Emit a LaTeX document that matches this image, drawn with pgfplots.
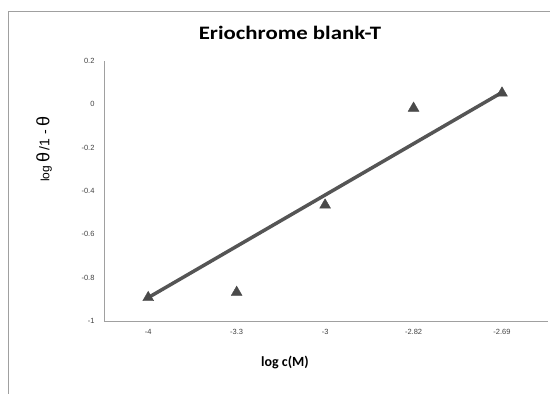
\documentclass[border=0pt]{standalone}
\usepackage{pgfplots}
\pgfplotsset{compat=1.18}
\usepackage{fontspec}
\setmainfont{Liberation Sans}
\newfontfamily\calibri{Carlito}
\definecolor{markc}{HTML}{4A4A4A}
\definecolor{linec}{HTML}{555555}
\definecolor{axc}{HTML}{A0A0A0}
\begin{document}
\begin{tikzpicture}[x=1pt,y=1pt]
\useasboundingbox (-104,-73) rectangle (446,321);
\draw[axc, line width=0.8pt] (-96,-73) -- (-96,310) -- (446,310);
\begin{axis}[
  at={(0,0)}, anchor=south west,
  scale only axis, width=444pt, height=260pt,
  xmin=-0.5, xmax=4.52, ymin=-1, ymax=0.2,
  axis x line*=bottom, axis y line*=left,
  axis line style={axc, line width=0.9pt, -},
  xtick={0,1,2,3,4}, xticklabels={-4,-3.3,-3,-2.82,-2.69},
  ytick={-1,-0.8,-0.6,-0.4,-0.2,0,0.2},
  yticklabels={-1,-0.8,-0.6,-0.4,-0.2,0,0.2},
  major tick length=0pt,
  tick label style={font=\fontsize{7.5}{8}\selectfont, text=black!75},
  xticklabel style={yshift=-5pt},
  yticklabel style={xshift=-6pt},
  clip=false,
]
\addplot[linec, line width=3.5pt, no marks] coordinates {(0,-0.892) (4,0.055)};
\addplot[only marks, mark=triangle*, mark size=6.3pt, mark options={fill=markc, draw=markc}] coordinates {
(0,-0.892) (1,-0.868) (2,-0.465) (3,-0.018) (4,0.052)};
\end{axis}
\node[font=\calibri\bfseries\fontsize{19}{21}\selectfont, xscale=1.2] at (186,288) {Eriochrome blank-T};
\node[font=\calibri\bfseries\fontsize{14}{16}\selectfont] at (181,-41) {log c(M)};
\node[rotate=90, font=\fontsize{12}{14}\selectfont] at (-60,172) {log {\fontsize{18}{20}\selectfont θ}{\fontsize{14}{16}\selectfont\,/1 - }{\fontsize{18}{20}\selectfont θ}};
\end{tikzpicture}
\end{document}
